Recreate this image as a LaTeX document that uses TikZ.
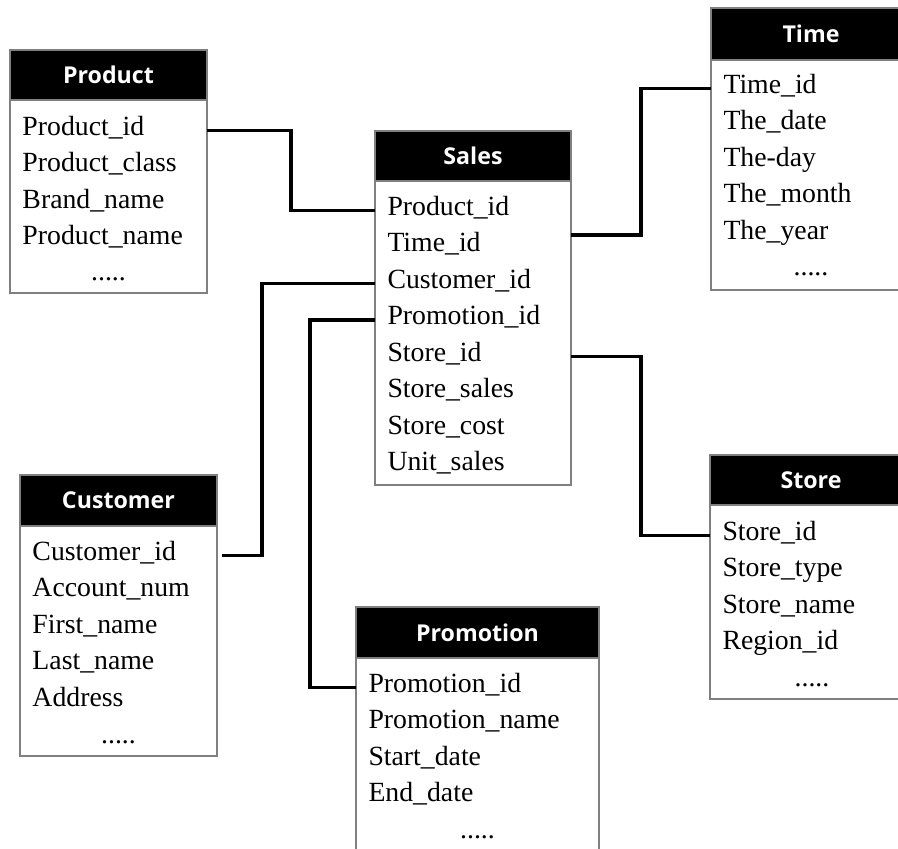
\documentclass[tikz,border=0pt]{standalone}
\usepackage{fontspec}
\setmainfont{Liberation Serif}
\newfontfamily\headfont{Open Sans}
\usetikzlibrary{positioning}

\definecolor{boxgray}{gray}{0.5}

\begin{document}
\begin{tikzpicture}[
    x=0.02cm, y=-0.02cm,
    head/.style={draw=boxgray, line width=0.8pt, fill=black, text=white, anchor=north west,
        inner sep=0pt, outer sep=0pt, minimum height=1cm,
        font=\headfont\bfseries\fontsize{13.2pt}{16pt}\selectfont},
    box/.style={draw=boxgray, line width=0.8pt, fill=white, inner sep=0pt, outer sep=0pt},
    field/.style={anchor=base west, inner xsep=0.25cm, inner ysep=0pt, outer sep=0pt,
        text width=#1, text height=0.7em, text depth=0.2em, align=left,
        font=\fontsize{15.8pt}{19pt}\selectfont},
    more/.style={anchor=base, inner sep=0pt, font=\fontsize{15.8pt}{19pt}\selectfont},
    link/.style={draw, line width=2pt}
]
\useasboundingbox (0,0) rectangle (898,848);
\clip (0,0) rectangle (898,848);

% Tables
\node[head, minimum width=3.94cm] (product) at (10,50) {Product};
\node[box, minimum width=3.94cm, minimum height=3.86cm, below=0pt of product] (product-box) {};
\foreach \f [count=\i] in {Product\_id, Product\_class, Brand\_name, Product\_name}
    \node[field=3.44cm] (product-\i) at (10, 98.5+36.5*\i) {\f};
\node[more] (product-more) at (108.5,280) {.....};

\node[head, minimum width=3.92cm] (sales) at (375,131) {Sales};
\node[box, minimum width=3.92cm, minimum height=6.08cm, below=0pt of sales] (sales-box) {};
\foreach \f [count=\i] in {Product\_id, Time\_id, Customer\_id, Promotion\_id, Store\_id, Store\_sales, Store\_cost, Unit\_sales}
    \node[field=3.42cm] (sales-\i) at (375, 178.5+36.5*\i) {\f};

\node[head, minimum width=4cm, minimum height=1.04cm] (time) at (711,8) {Time};
\node[box, minimum width=4cm, minimum height=4.6cm, below=0pt of time] (time-box) {};
\foreach \f [count=\i] in {Time\_id, The\_date, The-day, The\_month, The\_year}
    \node[field=3.5cm] (time-\i) at (711, 56.5+36.5*\i) {\f};
\node[more] (time-more) at (811,275.5) {.....};

\node[head, minimum width=3.94cm, minimum height=1.02cm] (customer) at (20,475) {Customer};
\node[box, minimum width=3.94cm, minimum height=4.6cm, below=0pt of customer] (customer-box) {};
\foreach \f [count=\i] in {Customer\_id, Account\_num, First\_name, Last\_name, Address}
    \node[field=3.44cm] (customer-\i) at (20, 523.5+36.5*\i) {\f};
\node[more] (customer-more) at (118.5,743) {.....};

\node[head, minimum width=4.86cm, minimum height=1.02cm] (promotion) at (356,607) {Promotion};
\node[box, minimum width=4.86cm, minimum height=4.2cm, below=0pt of promotion] (promotion-box) {};
\foreach \f [count=\i] in {Promotion\_id, Promotion\_name, Start\_date, End\_date}
    \node[field=4.36cm] (promotion-\i) at (356, 655.5+36.5*\i) {\f};
\node[more] (promotion-more) at (477.5,838) {.....};

\node[head, minimum width=4.04cm] (store) at (710,455) {Store};
\node[box, minimum width=4.04cm, minimum height=3.88cm, below=0pt of store] (store-box) {};
\foreach \f [count=\i] in {Store\_id, Store\_type, Store\_name, Region\_id}
    \node[field=3.54cm] (store-\i) at (710, 503.5+36.5*\i) {\f};
\node[more] (store-more) at (812,686) {.....};

% Links
\draw[link] (product-1.east) -- ++(84,0) |- (sales-1.west);
\draw[link] ([yshift=6.8pt]sales-2.east) -- ++(70,0) |- (time-1.west);
\draw[link, shorten <=3pt] (customer-1.east) -- ++(45,0) |- (sales-3.west);
\draw[link] (sales-4.west) -- ++(-65,0) |- (promotion-1.west);
\draw[link] (sales-5.east) -- ++(70,0) |- (store-1.west);

\end{tikzpicture}
\end{document}
